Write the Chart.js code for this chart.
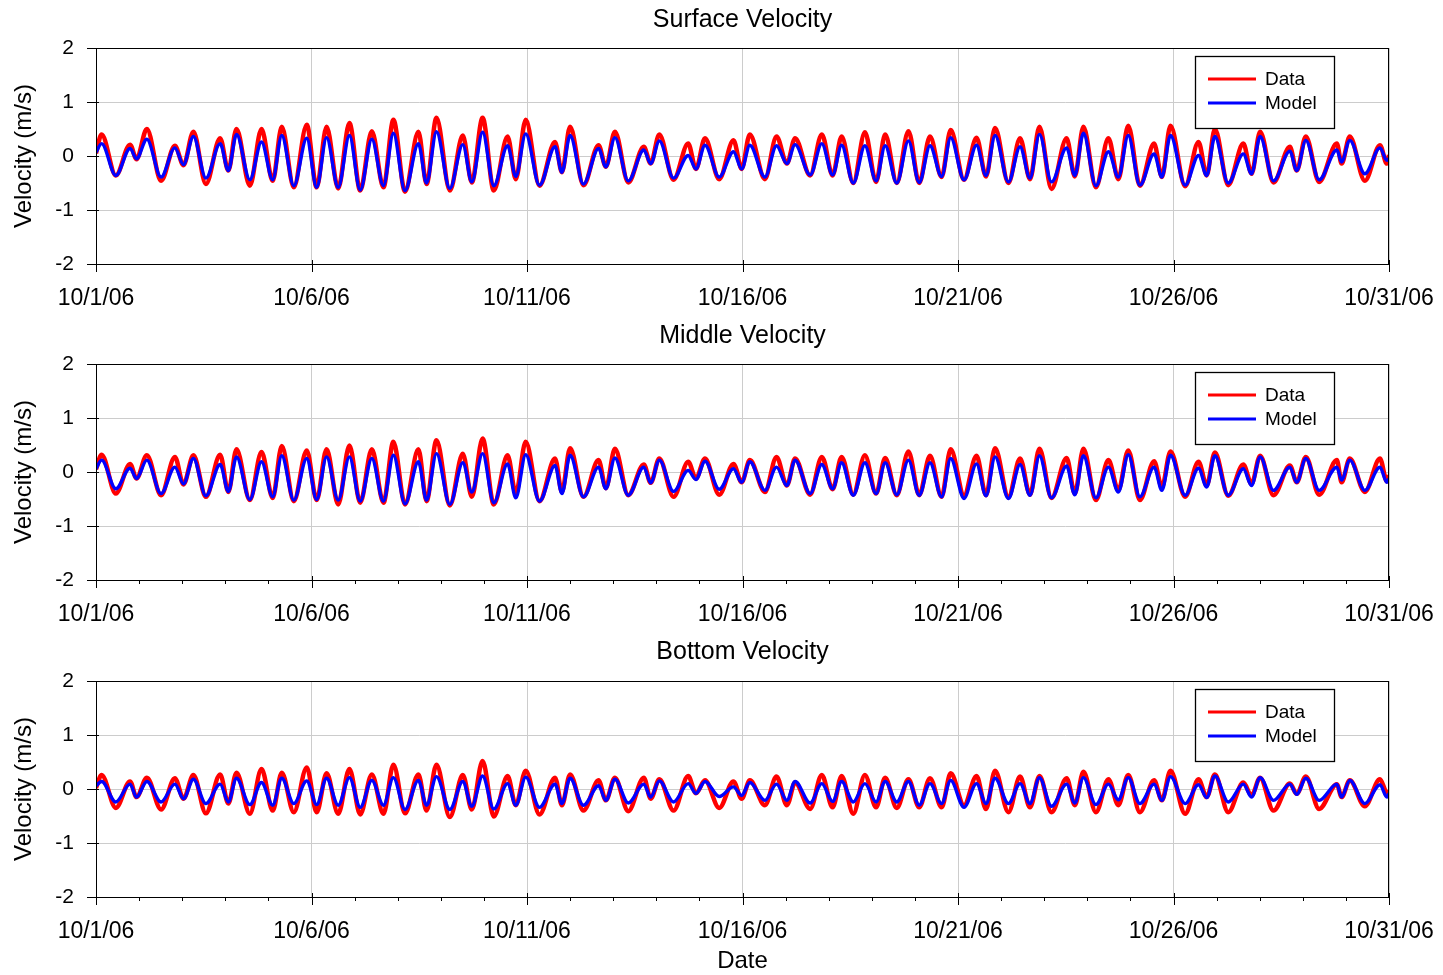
<!DOCTYPE html>
<html>
<head>
<meta charset="utf-8">
<script src="https://cdn.jsdelivr.net/npm/chart.js@4.4.0/dist/chart.umd.min.js"></script>
<style>
  body { margin: 0; background: #fff; }
  canvas { position: absolute; left: 0; }
</style>
</head>
<body>
<canvas id="surfaceChart" width="1443" height="316" style="top:0px"></canvas>
<canvas id="middleChart" width="1443" height="316" style="top:316px"></canvas>
<canvas id="bottomChart" width="1443" height="342" style="top:633px"></canvas>
<script>
// times (days after 10/1/06 00:00) of the tidal highs and lows
const tideDays = [
  0, 0.13, 0.46, 0.79, 0.94, 1.18, 1.51, 1.83, 2.03, 2.26, 2.55, 2.88, 3.07, 3.26, 3.57, 3.84, 4.10, 4.31, 4.59, 4.89,
  5.12, 5.35, 5.62, 5.88, 6.13, 6.40, 6.67, 6.90, 7.17, 7.48, 7.67, 7.90, 8.21, 8.51, 8.72, 8.97, 9.23, 9.55, 9.74, 9.97,
  10.29, 10.65, 10.81, 11.00, 11.31, 11.66, 11.83, 12.04, 12.35, 12.71, 12.87, 13.07, 13.40, 13.74, 13.92, 14.13, 14.46, 14.79, 14.98,
  15.17, 15.52, 15.79, 16.03, 16.22, 16.57, 16.84, 17.09, 17.30, 17.57, 17.84, 18.10, 18.31, 18.58, 18.85, 19.10, 19.35, 19.62, 19.83,
  20.14, 20.43, 20.65, 20.86, 21.17, 21.44, 21.67, 21.89, 22.17, 22.52, 22.71, 22.91, 23.20, 23.49, 23.72, 23.95, 24.22, 24.55, 24.73, 24.93,
  25.27, 25.58, 25.77, 25.96, 26.27, 26.62, 26.81, 27.01, 27.32, 27.70, 27.86, 28.07, 28.38, 28.79, 28.90, 29.09, 29.44, 29.79, 29.95, 30.00
];

// surface velocity (m/s)
const surfaceData = [
  0.05, 0.40, -0.36, 0.21, -0.06, 0.50, -0.46, 0.19, -0.17, 0.45, -0.52, 0.33, -0.27, 0.50, -0.55, 0.50, -0.46, 0.54, -0.58, 0.58,
  -0.58, 0.54, -0.60, 0.61, -0.64, 0.46, -0.58, 0.67, -0.66, 0.45, -0.52, 0.71, -0.64, 0.38, -0.49, 0.71, -0.64, 0.36, -0.43, 0.67,
  -0.55, 0.26, -0.30, 0.54, -0.54, 0.20, -0.20, 0.45, -0.49, 0.17, -0.14, 0.40, -0.44, 0.23, -0.24, 0.33, -0.43, 0.29, -0.24,
  0.40, -0.43, 0.36, -0.14, 0.33, -0.36, 0.40, -0.36, 0.36, -0.50, 0.44, -0.48, 0.40, -0.50, 0.46, -0.50, 0.36, -0.39, 0.48,
  -0.44, 0.34, -0.38, 0.52, -0.50, 0.33, -0.43, 0.54, -0.61, 0.33, -0.38, 0.54, -0.58, 0.33, -0.43, 0.56, -0.55, 0.23, -0.39, 0.56,
  -0.56, 0.26, -0.36, 0.50, -0.54, 0.23, -0.33, 0.45, -0.49, 0.17, -0.27, 0.36, -0.48, 0.23, -0.14, 0.36, -0.46, 0.20, -0.14, 0.02
];
const surfaceModel = [
  0.07, 0.23, -0.36, 0.14, -0.05, 0.31, -0.39, 0.15, -0.16, 0.36, -0.41, 0.23, -0.27, 0.40, -0.44, 0.26, -0.44, 0.38, -0.55, 0.33,
  -0.58, 0.34, -0.58, 0.38, -0.63, 0.31, -0.55, 0.42, -0.64, 0.23, -0.50, 0.45, -0.60, 0.21, -0.48, 0.44, -0.55, 0.19, -0.38, 0.41,
  -0.54, 0.17, -0.30, 0.38, -0.52, 0.14, -0.20, 0.34, -0.46, 0.11, -0.14, 0.28, -0.41, 0.01, -0.24, 0.20, -0.39, 0.08, -0.24,
  0.20, -0.39, 0.19, -0.14, 0.21, -0.35, 0.23, -0.35, 0.20, -0.50, 0.19, -0.46, 0.19, -0.50, 0.28, -0.49, 0.19, -0.38, 0.34,
  -0.44, 0.20, -0.36, 0.38, -0.48, 0.17, -0.41, 0.40, -0.48, 0.15, -0.36, 0.42, -0.55, 0.08, -0.39, 0.38, -0.54, 0.04, -0.39, 0.38,
  -0.54, 0.01, -0.36, 0.36, -0.50, 0.04, -0.33, 0.36, -0.46, 0.09, -0.27, 0.29, -0.44, 0.11, -0.11, 0.29, -0.33, 0.15, -0.08, -0.05
];

// middle velocity (m/s)
const middleData = [
  0.05, 0.32, -0.40, 0.15, -0.12, 0.31, -0.43, 0.28, -0.23, 0.31, -0.46, 0.32, -0.37, 0.42, -0.52, 0.37, -0.48, 0.48, -0.54, 0.40,
  -0.52, 0.42, -0.60, 0.49, -0.57, 0.42, -0.57, 0.56, -0.60, 0.42, -0.54, 0.59, -0.62, 0.34, -0.46, 0.62, -0.60, 0.31, -0.40, 0.56,
  -0.54, 0.25, -0.37, 0.44, -0.46, 0.22, -0.30, 0.43, -0.43, 0.14, -0.20, 0.25, -0.46, 0.19, -0.12, 0.25, -0.42, 0.15, -0.19,
  0.22, -0.37, 0.28, -0.25, 0.25, -0.42, 0.28, -0.32, 0.28, -0.42, 0.31, -0.40, 0.26, -0.43, 0.38, -0.43, 0.30, -0.46, 0.42,
  -0.43, 0.30, -0.43, 0.44, -0.46, 0.25, -0.42, 0.43, -0.48, 0.26, -0.40, 0.43, -0.52, 0.22, -0.34, 0.40, -0.52, 0.20, -0.28, 0.38,
  -0.46, 0.19, -0.25, 0.36, -0.44, 0.14, -0.22, 0.30, -0.43, 0.12, -0.19, 0.28, -0.42, 0.22, -0.19, 0.25, -0.37, 0.25, -0.17, -0.06
];
const middleModel = [
  0.06, 0.22, -0.31, 0.07, -0.12, 0.22, -0.40, 0.09, -0.22, 0.25, -0.44, 0.14, -0.36, 0.28, -0.51, 0.19, -0.46, 0.30, -0.52, 0.25,
  -0.51, 0.28, -0.52, 0.28, -0.54, 0.25, -0.54, 0.31, -0.59, 0.19, -0.52, 0.34, -0.60, 0.17, -0.37, 0.34, -0.57, 0.15, -0.48, 0.32,
  -0.54, 0.12, -0.40, 0.31, -0.46, 0.09, -0.31, 0.26, -0.43, 0.09, -0.20, 0.22, -0.36, 0.03, -0.14, 0.20, -0.32, 0.06, -0.19,
  0.19, -0.34, 0.09, -0.25, 0.22, -0.40, 0.14, -0.31, 0.17, -0.43, 0.17, -0.40, 0.17, -0.42, 0.22, -0.43, 0.17, -0.46, 0.25,
  -0.49, 0.15, -0.44, 0.28, -0.49, 0.14, -0.43, 0.30, -0.48, 0.11, -0.42, 0.30, -0.48, 0.09, -0.37, 0.32, -0.46, 0.09, -0.34, 0.31,
  -0.43, 0.07, -0.28, 0.30, -0.43, 0.06, -0.25, 0.28, -0.34, 0.09, -0.19, 0.25, -0.34, 0.09, -0.15, 0.22, -0.34, 0.09, -0.19, -0.12
];

// bottom velocity (m/s)
const bottomData = [
  0.02, 0.26, -0.35, 0.14, -0.15, 0.21, -0.38, 0.20, -0.18, 0.26, -0.45, 0.27, -0.27, 0.30, -0.46, 0.37, -0.40, 0.30, -0.43, 0.40,
  -0.43, 0.29, -0.46, 0.37, -0.47, 0.27, -0.46, 0.45, -0.45, 0.27, -0.40, 0.45, -0.52, 0.26, -0.38, 0.52, -0.51, 0.24, -0.30, 0.34,
  -0.47, 0.21, -0.30, 0.27, -0.40, 0.16, -0.21, 0.21, -0.41, 0.21, -0.18, 0.18, -0.40, 0.24, -0.08, 0.16, -0.35, 0.14, -0.18,
  0.16, -0.30, 0.23, -0.30, 0.12, -0.37, 0.26, -0.34, 0.24, -0.46, 0.26, -0.34, 0.21, -0.35, 0.18, -0.34, 0.20, -0.34, 0.29,
  -0.30, 0.24, -0.37, 0.34, -0.43, 0.23, -0.34, 0.24, -0.43, 0.20, -0.30, 0.32, -0.43, 0.18, -0.30, 0.26, -0.43, 0.16, -0.21, 0.34,
  -0.46, 0.18, -0.15, 0.27, -0.43, 0.12, -0.12, 0.21, -0.40, 0.10, -0.09, 0.23, -0.37, 0.09, -0.15, 0.16, -0.32, 0.18, -0.06, -0.06
];
const bottomModel = [
  0.06, 0.14, -0.24, 0.09, -0.15, 0.14, -0.24, 0.09, -0.18, 0.18, -0.27, 0.09, -0.24, 0.20, -0.29, 0.12, -0.30, 0.20, -0.27, 0.15,
  -0.29, 0.20, -0.30, 0.21, -0.34, 0.16, -0.30, 0.21, -0.38, 0.16, -0.30, 0.23, -0.38, 0.14, -0.32, 0.24, -0.37, 0.10, -0.30, 0.22,
  -0.34, 0.09, -0.27, 0.20, -0.30, 0.06, -0.21, 0.18, -0.26, 0.09, -0.15, 0.15, -0.24, 0.10, -0.08, 0.14, -0.14, 0.04, -0.12,
  0.12, -0.21, 0.09, -0.21, 0.14, -0.26, 0.10, -0.23, 0.14, -0.24, 0.10, -0.24, 0.14, -0.24, 0.14, -0.30, 0.10, -0.27, 0.16,
  -0.34, 0.10, -0.27, 0.20, -0.27, 0.10, -0.27, 0.21, -0.32, 0.09, -0.26, 0.21, -0.29, 0.09, -0.20, 0.21, -0.27, 0.09, -0.21, 0.23,
  -0.27, 0.08, -0.16, 0.24, -0.24, 0.09, -0.15, 0.21, -0.21, 0.09, -0.10, 0.20, -0.21, 0.09, -0.15, 0.16, -0.27, 0.08, -0.15, -0.08
];

const dateLabels = ['10/1/06', '10/6/06', '10/11/06', '10/16/06', '10/21/06', '10/26/06', '10/31/06'];
const seriesNames = ['Data', 'Model'];
const FONT = '"Liberation Sans", Arial, Helvetica, sans-serif';

// frame, tick marks, panel title and legend box
const panelDecor = {
    id: 'panelDecor',
    afterDraw(chart, args, opts) {
        const { ctx, chartArea: a, scales: { x, y } } = chart;
        ctx.save();
        ctx.strokeStyle = '#000';
        ctx.lineWidth = 1;
        ctx.strokeRect(a.left + 0.5, a.top + 0.5, a.right - a.left - 1, a.bottom - a.top);

        ctx.beginPath();
        x.ticks.forEach(t => {
            const major = t.value % 5 === 0;
            if (!major && !opts.minorTicks) return;
            const px = Math.round(x.getPixelForValue(t.value)) + 0.5;
            ctx.moveTo(px, a.bottom - (major ? 4 : 0));
            ctx.lineTo(px, a.bottom + (major ? 8 : 4));
        });
        y.ticks.forEach(t => {
            const major = Number.isInteger(t.value);
            const py = Math.round(y.getPixelForValue(t.value)) + 0.5;
            ctx.moveTo(a.left + (major ? 3 : 0), py);
            ctx.lineTo(a.left - (major ? 9 : 5), py);
        });
        ctx.stroke();

        ctx.fillStyle = '#000';
        ctx.font = '25px ' + FONT;
        ctx.textAlign = 'center';
        ctx.textBaseline = 'middle';
        ctx.fillText(opts.title, (a.left + a.right) / 2, opts.titleY);

        // legend
        const lx = a.right - 194, ly = a.top + 8;
        ctx.fillStyle = '#fff';
        ctx.fillRect(lx, ly, 139, 72);
        ctx.strokeStyle = '#000';
        ctx.lineWidth = 1.3;
        ctx.strokeRect(lx + 0.5, ly + 0.5, 139, 72);
        ctx.font = '19px ' + FONT;
        ctx.textAlign = 'left';
        chart.data.datasets.forEach((ds, i) => {
            const ry = ly + 23 + i * 24;
            ctx.strokeStyle = ds.borderColor;
            ctx.lineWidth = 3;
            ctx.beginPath();
            ctx.moveTo(lx + 13, ry);
            ctx.lineTo(lx + 61, ry);
            ctx.stroke();
            ctx.fillStyle = '#000';
            ctx.fillText(ds.label, lx + 70, ry + 1);
        });
        ctx.restore();
    }
};

function buildPanel(canvasId, title, titleY, dataVals, modelVals, axisHeight, showDate, minorTicks) {
    const ctx = document.getElementById(canvasId);
    return new Chart(ctx, {
        type: 'line',
        data: {
            datasets: [
                {
                    label: seriesNames[0],
                    data: tideDays.map((d, i) => ({ x: d, y: dataVals[i] })),
                    borderColor: '#ff0000',
                    borderWidth: 4.5,
                    order: 2
                },
                {
                    label: seriesNames[1],
                    data: tideDays.map((d, i) => ({ x: d, y: modelVals[i] })),
                    borderColor: '#0000ff',
                    borderWidth: 3.4,
                    order: 1
                }
            ]
        },
        options: {
            responsive: false,
            animation: false,
            layout: { padding: { top: 48, right: 54, left: 0, bottom: 0 } },
            elements: {
                point: { radius: 0 },
                line: { cubicInterpolationMode: 'monotone', fill: false }
            },
            plugins: {
                legend: { display: false },
                tooltip: { enabled: false },
                panelDecor: { title: title, titleY: titleY, minorTicks: minorTicks }
            },
            scales: {
                x: {
                    type: 'linear',
                    min: 0,
                    max: 30,
                    border: { display: false },
                    grid: {
                        drawTicks: false,
                        color: c => (c.tick && c.tick.value % 5 === 0) ? '#cccccc' : 'rgba(0,0,0,0)'
                    },
                    ticks: {
                        stepSize: 1,
                        autoSkip: false,
                        maxRotation: 0,
                        minRotation: 0,
                        padding: 21,
                        color: '#000',
                        font: { family: FONT, size: 23 },
                        callback: v => v % 5 === 0 ? dateLabels[v / 5] : ''
                    },
                    title: {
                        display: showDate,
                        text: 'Date',
                        color: '#000',
                        font: { family: FONT, size: 24, lineHeight: 1.1 },
                        padding: { top: 0, bottom: 0 }
                    },
                    afterFit: s => { s.height = axisHeight; s.paddingLeft = 0; s.paddingRight = 0; }
                },
                y: {
                    min: -2,
                    max: 2,
                    border: { display: false },
                    grid: {
                        drawTicks: false,
                        color: c => (c.tick && Number.isInteger(c.tick.value)) ? '#cccccc' : 'rgba(0,0,0,0)'
                    },
                    ticks: {
                        stepSize: 0.5,
                        padding: 22,
                        color: '#000',
                        font: { family: FONT, size: 21 },
                        callback: v => Number.isInteger(v) ? String(v) : ''
                    },
                    title: {
                        display: true,
                        text: 'Velocity (m/s)',
                        color: '#000',
                        font: { family: FONT, size: 24 },
                        padding: { top: 10, bottom: 0 }
                    },
                    afterFit: s => { s.width = 96; s.paddingTop = 0; s.paddingBottom = 0; }
                }
            }
        },
        plugins: [panelDecor]
    });
}

buildPanel('surfaceChart', 'Surface Velocity', 20, surfaceData, surfaceModel, 52, false, false);
buildPanel('middleChart', 'Middle Velocity', 20, middleData, middleModel, 52, false, true);
buildPanel('bottomChart', 'Bottom Velocity', 19, bottomData, bottomModel, 78, true, true);
</script>
</body>
</html>
